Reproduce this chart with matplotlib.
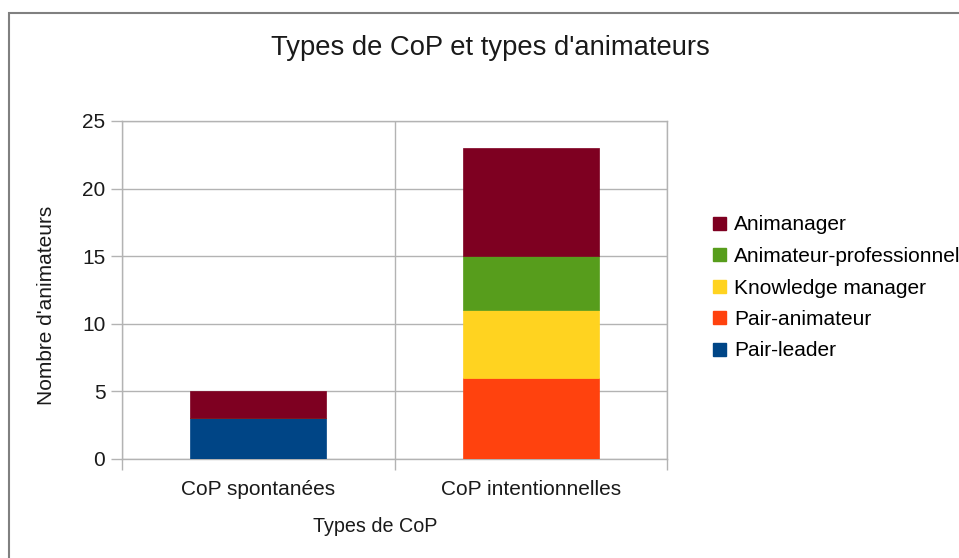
import matplotlib
matplotlib.use("Agg")
import matplotlib.pyplot as plt
from matplotlib.patches import Rectangle, Patch

plt.rcParams['font.family'] = ['Liberation Sans', 'DejaVu Sans']

# data
categories = ["CoP spontanées", "CoP intentionnelles"]
series = ["Pair-leader", "Pair-animateur", "Knowledge manager",
          "Animateur-professionnel", "Animanager"]
pair_leader = [3, 0]
pair_animateur = [0, 6]
knowledge_manager = [0, 5]
animateur_pro = [0, 4]
animanager = [2, 8]
values = [pair_leader, pair_animateur, knowledge_manager, animateur_pro, animanager]
colors = ["#004586", "#ff420e", "#ffd320", "#579d1c", "#7e0021"]

W, H = 959, 558
fig = plt.figure(figsize=(W / 100, H / 100), dpi=100)

# outer frame (right and bottom fall outside the image)
fig.add_artist(Rectangle((9 / W, -0.1), 2.0, 1.1 - 13 / H, transform=fig.transFigure,
                         fill=False, edgecolor="#808080", linewidth=1.5))

ax = fig.add_axes([122 / W, 1 - 459 / H, 545 / W, 338 / H])
x = list(range(len(categories)))
bottom = [0] * len(categories)
for name, vals, c in zip(series, values, colors):
    ax.bar(x, vals, width=0.5, bottom=bottom, color=c, edgecolor=c, linewidth=0.5,
           label=name, zorder=3)
    bottom = [b + v for b, v in zip(bottom, vals)]

grid_c = "#b3b3b3"
txt_c = "#1a1a1a"
ax.set_xlim(-0.5, 1.5)
ax.set_ylim(0, 25)
ax.set_yticks([0, 5, 10, 15, 20, 25])
ax.set_xticks(x)
ax.set_xticklabels(categories)
ax.set_xticks([-0.5, 0.5, 1.5], minor=True)
ax.tick_params(axis="x", which="major", length=0, pad=15, labelsize=15, labelcolor=txt_c)
ax.tick_params(axis="x", which="minor", length=8, color=grid_c, width=1)
ax.tick_params(axis="y", length=8, color=grid_c, width=1, pad=4, labelsize=15, labelcolor=txt_c)
ax.grid(True, axis="y", which="major", color=grid_c, linewidth=1, zorder=0)
ax.grid(True, axis="x", which="minor", color=grid_c, linewidth=1, zorder=0)
for s in ax.spines.values():
    s.set_color(grid_c)
    s.set_linewidth(1)

fig.text(490 / W, 1 - 48 / H, "Types de CoP et types d'animateurs", ha="center", va="center",
         fontsize=19.7, color=txt_c)
fig.text(375 / W, 1 - 527 / H, "Types de CoP", ha="center", va="center",
         fontsize=14.2, color=txt_c)
fig.text(47 / W, 1 - 305 / H, "Nombre d'animateurs", ha="center", va="center",
         rotation=90, fontsize=15, color=txt_c)

handles = [Patch(facecolor=c, edgecolor=c) for c in colors][::-1]
labels = series[::-1]
fig.legend(handles, labels, loc="center left", bbox_to_anchor=(705 / W, 1 - 288 / H),
           frameon=False, fontsize=15, handlelength=0.6, handleheight=0.6,
           handletextpad=0.4, labelspacing=0.6, borderaxespad=0)

fig.savefig("out.png", dpi=100)
